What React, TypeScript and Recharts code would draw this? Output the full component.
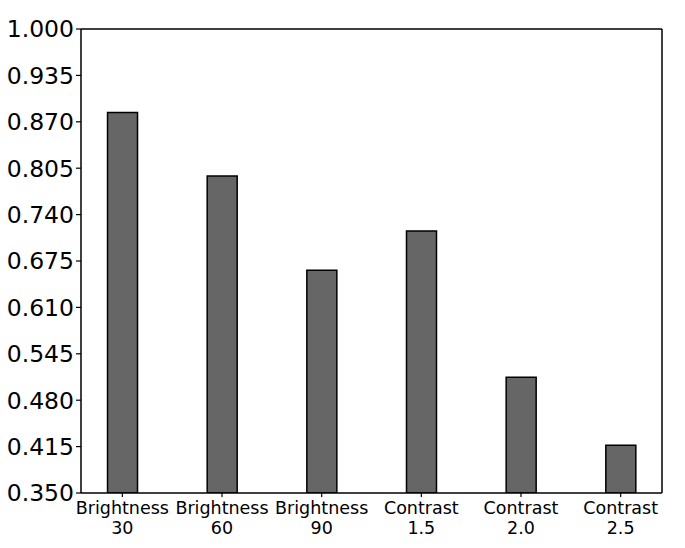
import React from 'react';
import { BarChart, Bar, XAxis, YAxis, ReferenceLine } from 'recharts';

const categories = ['Brightness\n30', 'Brightness\n60', 'Brightness\n90', 'Contrast\n1.5', 'Contrast\n2.0', 'Contrast\n2.5'];
const scores = [0.883, 0.794, 0.662, 0.717, 0.512, 0.417];
const yTicks = [0.35, 0.415, 0.48, 0.545, 0.61, 0.675, 0.74, 0.805, 0.87, 0.935, 1.0];

const data = categories.map((name, i) => ({ idx: i, name, value: scores[i] }));

const font = 'DejaVu Sans, sans-serif';

const CategoryTick = (props: any) => {
  const { x, y, payload } = props;
  const label = categories[payload.value];
  if (!label) return null;
  const [line1, line2] = label.split('\n');
  return (
    <text x={x} y={y} textAnchor="middle" fill="#000" fontSize={17.5} fontFamily={font}>
      <tspan x={x} dy={14.5}>{line1}</tspan>
      <tspan x={x} dy={20.5}>{line2}</tspan>
    </text>
  );
};

const App = () => {
  return (
    <div style={{ position: 'absolute', left: 0, top: 0, background: '#fff' }}>
      <BarChart
        width={685}
        height={548}
        data={data}
        margin={{ top: 29, right: 23, left: 0, bottom: 0 }}
      >
        <XAxis
          dataKey="idx"
          type="number"
          domain={[-0.415, 5.415]}
          ticks={[0, 1, 2, 3, 4, 5]}
          allowDataOverflow
          height={55}
          tick={<CategoryTick />}
          tickSize={4}
          axisLine={{ stroke: '#000', strokeWidth: 1.5 }}
          tickLine={{ stroke: '#000', strokeWidth: 1.2 }}
        />
        <YAxis
          domain={[0.35, 1.0]}
          ticks={yTicks}
          allowDataOverflow
          width={81}
          tickSize={5}
          tickFormatter={(v: number) => v.toFixed(3)}
          tick={{ fill: '#000', fontSize: 23.5, fontFamily: font }}
          axisLine={{ stroke: '#000', strokeWidth: 1.5 }}
          tickLine={{ stroke: '#000', strokeWidth: 1.2 }}
        />
        <ReferenceLine y={1.0} stroke="#000" strokeWidth={1.5} ifOverflow="visible" />
        <ReferenceLine x={5.415} stroke="#000" strokeWidth={1.5} ifOverflow="visible" />
        <Bar
          dataKey="value"
          fill="#666666"
          stroke="#000"
          strokeWidth={1.5}
          barSize={30}
          isAnimationActive={false}
        />
      </BarChart>
    </div>
  );
};

export default App;
